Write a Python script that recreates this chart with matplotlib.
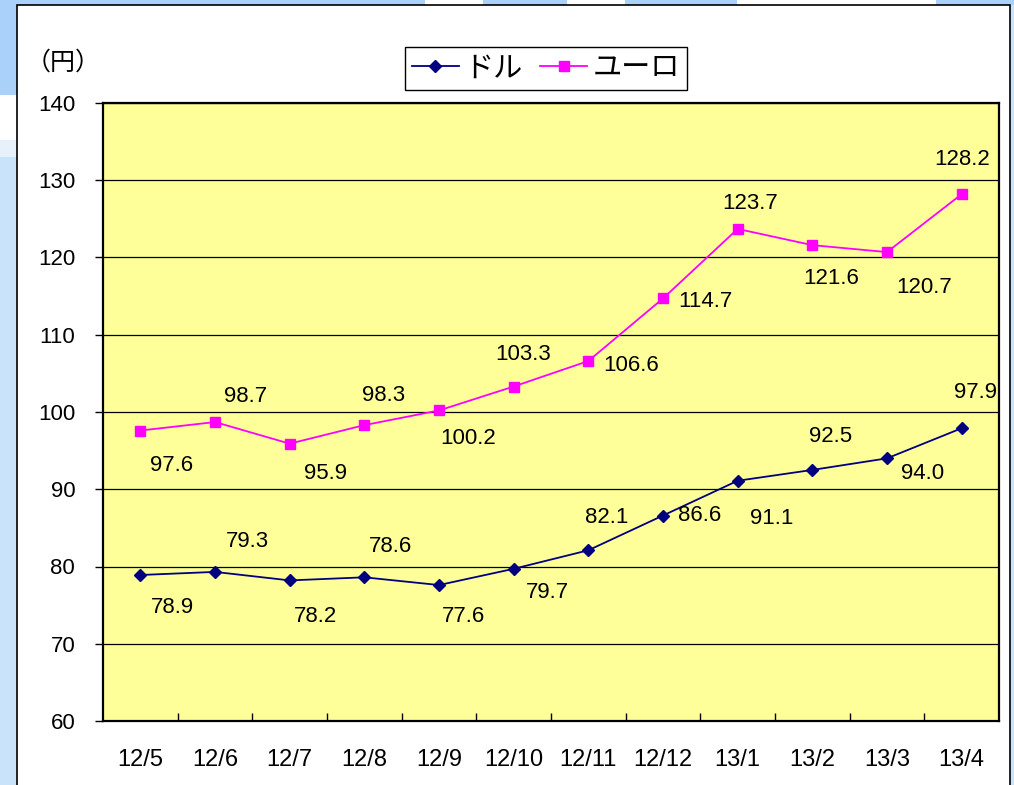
import matplotlib
matplotlib.use("Agg")
import matplotlib.pyplot as plt
from matplotlib.patches import Rectangle

plt.rcParams['font.family'] = ['Liberation Sans', 'Noto Sans CJK JP', 'DejaVu Sans']

# data
months = ['12/5', '12/6', '12/7', '12/8', '12/9', '12/10', '12/11',
          '12/12', '13/1', '13/2', '13/3', '13/4']
usd = [78.9, 79.3, 78.2, 78.6, 77.6, 79.7, 82.1, 86.6, 91.1, 92.5, 94.0, 97.9]
eur = [97.6, 98.7, 95.9, 98.3, 100.2, 103.3, 106.6, 114.7, 123.7, 121.6, 120.7, 128.2]
series_names = ['ドル', 'ユーロ']

# label offsets in pixels (dx, dy) from each point, dy up is positive
usd_off = [(32, -33), (32, 30), (26, -36), (26, 31), (25, -31), (34, -24),
           (18, 33), (37, 0), (34, -38), (18, 33), (36, -15), (14, 36)]
eur_off = [(31, -35), (31, 26), (36, -30), (19, 30), (29, -28), (9, 32),
           (43, -4), (42, -3), (12, 25), (19, -33), (37, -35), (0, 35)]

W, H = 1014, 785
fig = plt.figure(figsize=(W / 100, H / 100), dpi=100)
fig.patch.set_facecolor('#c9e3fb')

# slide background bits around the chart
def px_rect(x0, y0, x1, y1, **kw):
    fig.patches.append(Rectangle((x0 / W, 1 - y1 / H), (x1 - x0) / W, (y1 - y0) / H,
                                 transform=fig.transFigure, figure=fig, zorder=-5, **kw))

px_rect(0, 0, 17, 95, facecolor='#a9d1f9', edgecolor='none')
px_rect(0, 95, 17, 140, facecolor='white', edgecolor='none')
px_rect(0, 140, 17, 157, facecolor='#e6f1fc', edgecolor='none')
for a, b in [(0, 425), (483, 567), (625, 737), (936, 1014)]:
    px_rect(a, 0, b, 5, facecolor='#a9d1f9', edgecolor='none')
for a, b in [(425, 483), (567, 625), (737, 936)]:
    px_rect(a, 0, b, 5, facecolor='white', edgecolor='none')
# white chart box
px_rect(17, 5, 1010, 790, facecolor='white', edgecolor='black', linewidth=1.2)

ax = fig.add_axes([103 / W, (H - 721) / H, 896 / W, 618 / H])
ax.set_facecolor('#ffff99')

x = list(range(len(months)))
l1, = ax.plot(x, usd, color='#000080', marker='D', markersize=6, linewidth=1.3)
l2, = ax.plot(x, eur, color='#ff00ff', marker='s', markersize=7, linewidth=1.3)

for xs, ys, offs in [(x, usd, usd_off), (x, eur, eur_off)]:
    for xi, yi, (dx, dy) in zip(xs, ys, offs):
        ax.annotate(f'{yi:.1f}', (xi, yi), xytext=(dx, dy), textcoords='offset pixels',
                    ha='center', va='center', fontsize=16)

ax.set_xlim(-0.5, len(months) - 0.5)
ax.set_ylim(60, 140)
ax.set_yticks(range(60, 141, 10))
ax.yaxis.grid(True, color='black', linewidth=0.9)
ax.set_axisbelow(True)
ax.tick_params(axis='y', direction='out', length=6, width=1, labelsize=16, pad=14)

# category boundary ticks (inward), labels at centres
ax.set_xticks([i + 0.5 for i in x[:-1]])
ax.set_xticklabels([])
ax.tick_params(axis='x', which='major', direction='in', length=6, width=1)
ax.set_xticks(x, minor=True)
ax.set_xticklabels(months, minor=True)
ax.tick_params(axis='x', which='minor', length=0, labelsize=17, pad=20)

for s in ax.spines.values():
    s.set_linewidth(1.6)

fig.text(63 / W, 1 - 63 / H, '（円）', fontsize=18, ha='center', va='center')

leg = fig.legend([l1, l2], series_names, loc='center', ncol=2,
                 bbox_to_anchor=(546 / W, 1 - 68.5 / H), fontsize=21,
                 fancybox=False, edgecolor='black', framealpha=1,
                 handlelength=1.6, handletextpad=0.2, columnspacing=0.6,
                 borderpad=0.25, borderaxespad=0)
leg.get_frame().set_linewidth(1.0)

fig.savefig('out.png', dpi=100)
